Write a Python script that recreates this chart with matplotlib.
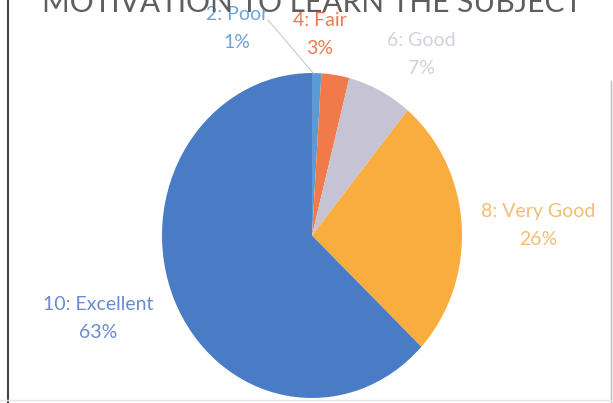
import matplotlib.pyplot as plt

# Datos
categorias = ['2: Poor', '4: Fair', '6: Good', '8: Very Good', '10: Excellent']
porcentajes = [1, 3, 7, 26, 63]
colores = ['#5b9bd5', '#f07a4a', '#c6c4d4', '#f9ad3e', '#4a7cc6']
colores_texto = ['#6fa3da', '#ee7a4c', '#d4cfdc', '#f3bd72', '#6a8ccf']
titulo = 'MOTIVATION TO LEARN THE SUBJECT'

W, H = 613, 403
fig = plt.figure(figsize=(W / 100, H / 100), dpi=100)

# Pie: el escaneo lo deja un poco ovalado (300 x 325 px)
cx, cy, rx, ry = 312, 235.5, 150, 162.5
ax = fig.add_axes([(cx - rx) / W, 1 - (cy + ry) / H, 2 * rx / W, 2 * ry / H])
ax.pie(porcentajes, colors=colores, startangle=90, counterclock=False,
       radius=1, wedgeprops=dict(linewidth=0))
ax.set_xlim(-1, 1)
ax.set_ylim(-1, 1)
ax.set_aspect('auto')
ax.axis('off')

# Etiquetas (posición en pixeles)
pos_etiquetas = [(237, 15), (320, 21), (421, 41), (538, 212), (98, 305)]
for cat, p, col, (px, py) in zip(categorias, porcentajes, colores_texto, pos_etiquetas):
    fig.text(px / W, 1 - py / H, cat, ha='center', va='center',
             fontsize=14, family='Lato', color=col)
    fig.text(px / W, 1 - (py + 27) / H, f'{p}%', ha='center', va='center',
             fontsize=14, family='Lato', color=col)

# Línea guía de 2: Poor
fig.add_artist(plt.Line2D([268 / W, 314 / W], [1 - 20 / H, 1 - 74 / H],
                          color='#bbbbbb', linewidth=0.6))

# Título (cortado por arriba en el escaneo)
fig.text(312 / W, 1 - 12 / H, titulo, ha='center', va='baseline',
         fontsize=21.5, family='Lato', color='#5e5e5e')

# Bordes del marco escaneado
fig.add_artist(plt.Line2D([8 / W, 8 / W], [0, 1], color='#444444', linewidth=1.5))
fig.add_artist(plt.Line2D([611 / W, 611 / W], [0, 0.8], color='#bbbbbb', linewidth=1))
fig.add_artist(plt.Line2D([0, 1], [3 / H, 3 / H], color='#e6e6e6', linewidth=1))

fig.savefig('out.png', dpi=100)
